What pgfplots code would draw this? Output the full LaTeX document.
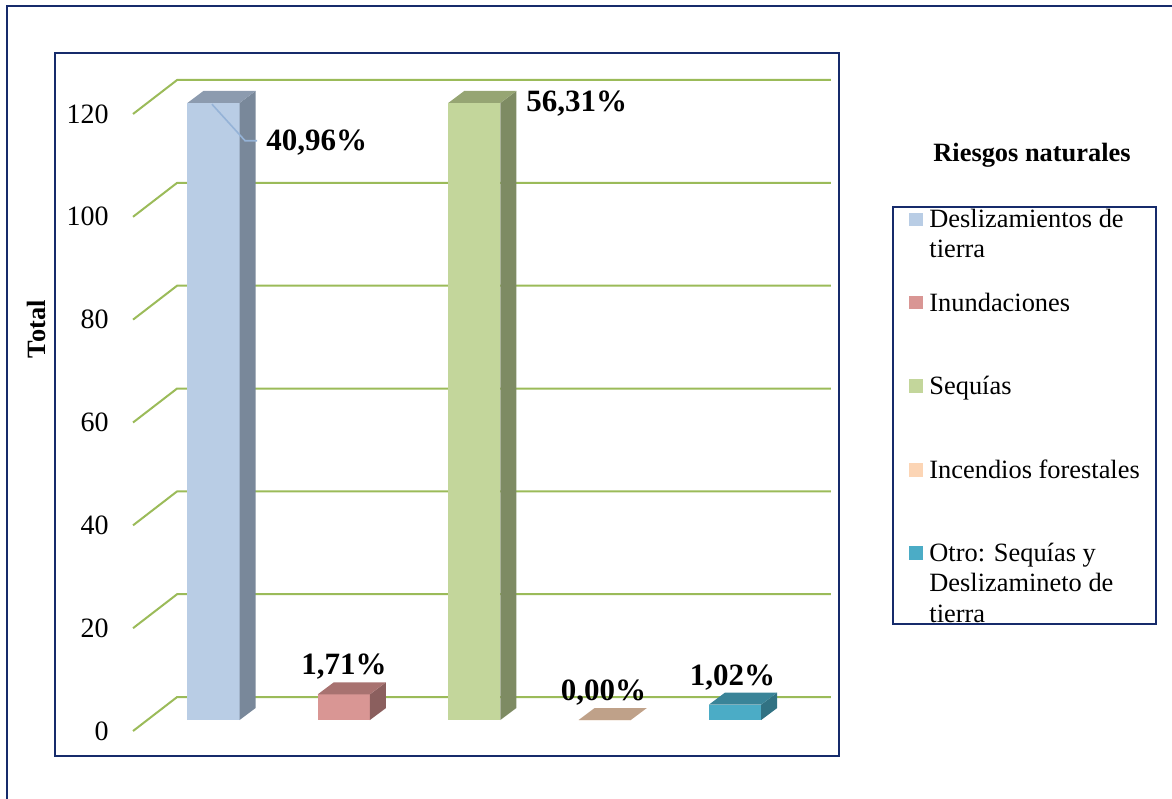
\documentclass[border=0pt]{standalone}
\usepackage{pgfplots}
\pgfplotsset{compat=1.18}
\usepackage{fontspec}
\setmainfont{Liberation Serif}

\definecolor{marco}{RGB}{22,43,107}
\definecolor{rejilla}{RGB}{155,187,89}
\definecolor{guia}{RGB}{149,179,215}
% front / side / top of each box
\definecolor{deslF}{RGB}{185,205,229}
\definecolor{deslS}{RGB}{121,136,154}
\definecolor{deslT}{RGB}{140,155,175}
\definecolor{inunF}{RGB}{217,150,148}
\definecolor{inunS}{RGB}{139,95,94}
\definecolor{inunT}{RGB}{168,114,112}
\definecolor{sequF}{RGB}{195,214,155}
\definecolor{sequS}{RGB}{126,139,99}
\definecolor{sequT}{RGB}{150,165,115}
\definecolor{inceF}{RGB}{252,213,181}
\definecolor{inceT}{RGB}{191,161,137}
\definecolor{otroF}{RGB}{75,172,198}
\definecolor{otroS}{RGB}{49,114,131}
\definecolor{otroT}{RGB}{58,132,152}

\newcommand{\fs}{\fontsize{13.2}{15}\selectfont}
\newcommand{\ft}{\fontsize{14}{16}\selectfont}
\newcommand{\fl}{\fontsize{15.5}{18}\selectfont\bfseries}

% one 3-D box: #1 category, #2 count, #3 front, #4 side, #5 top
% bars are cut at the axis maximum (120), as in the original chart
\newcommand{\caja}[5]{%
  \pgfmathsetmacro{\cxA}{#1-0.2}%
  \pgfmathsetmacro{\cxB}{#1+0.2}%
  \pgfmathsetmacro{\cxC}{#1+0.3227}%
  \pgfmathsetmacro{\cxD}{#1-0.0773}%
  \pgfmathsetmacro{\cyT}{2.14+min(#2,120)}%
  \pgfmathsetmacro{\cyU}{\cyT+2.33}%
  \addplot[fill=#3, draw=none] coordinates {(\cxA,2.14) (\cxB,2.14) (\cxB,\cyT) (\cxA,\cyT)};
  \addplot[fill=#4, draw=none] coordinates {(\cxB,2.14) (\cxC,4.47) (\cxC,\cyU) (\cxB,\cyT)};
  \addplot[fill=#5, draw=none] coordinates {(\cxA,\cyT) (\cxB,\cyT) (\cxC,\cyU) (\cxD,\cyU)};
}

\begin{document}
\begin{tikzpicture}
\useasboundingbox (0,0) rectangle (586pt,399pt);

\begin{axis}[
    at={(27.5pt,21pt)}, anchor=south west,
    scale only axis, width=392pt, height=351.5pt,
    xmin=-0.2155, xmax=5.797,
    ymin=-4.86, ymax=131.86,
    xtick=\empty,
    ytick={0,20,...,120},
    major tick length=0pt,
    ytick style={draw=none},
    axis line style={draw=marco, line width=1pt},
    yticklabel style={font=\ft, inner sep=0pt, xshift=27pt},
    /pgf/number format/assume math mode=true,
    ylabel={\textbf{Total}},
    ylabel style={at={(axis description cs:-0.024,0.607)}, anchor=center, font=\fs},
]
    % walls: front step and back line of every gridline
    \addplot[rejilla, line width=1pt] coordinates {(0.383,0) (0.721,6.61) (5.735,6.61)};
    \addplot[rejilla, line width=1pt] coordinates {(0.383,20) (0.721,26.61) (5.735,26.61)};
    \addplot[rejilla, line width=1pt] coordinates {(0.383,40) (0.721,46.61) (5.735,46.61)};
    \addplot[rejilla, line width=1pt] coordinates {(0.383,60) (0.721,66.61) (5.735,66.61)};
    \addplot[rejilla, line width=1pt] coordinates {(0.383,80) (0.721,86.61) (5.735,86.61)};
    \addplot[rejilla, line width=1pt] coordinates {(0.383,100) (0.721,106.61) (5.735,106.61)};
    \addplot[rejilla, line width=1pt] coordinates {(0.383,120) (0.721,126.61) (5.735,126.61)};

    % counts (n = 293)
    \caja{1}{120}{deslF}{deslS}{deslT}
    \caja{2}{5}{inunF}{inunS}{inunT}
    \caja{3}{165}{sequF}{sequS}{sequT}
    \caja{4}{0}{inceF}{inceF}{inceT}
    \caja{5}{3}{otroF}{otroS}{otroT}

    % data labels
    \draw[guia, line width=0.8pt] (axis cs:0.988,121.9) -- (axis cs:1.242,114.8) -- (axis cs:1.334,114.8);
    \node[anchor=west, inner sep=0pt, font=\fl] at (axis cs:1.403,114.4) {40,96\%};
    \node[anchor=west, inner sep=0pt, font=\fl] at (axis cs:3.396,122.1) {56,31\%};
    \node[inner sep=0pt, font=\fl] at (axis cs:2.0,12.6) {1,71\%};
    \node[inner sep=0pt, font=\fl] at (axis cs:3.99,7.4) {0,00\%};
    \node[inner sep=0pt, font=\fl] at (axis cs:4.98,10.3) {1,02\%};
\end{axis}

\begin{scope}[x=0.5pt, y=-0.5pt, shift={(0pt,399pt)}]
    % outer frame (cut by the picture's right and bottom edges)
    \draw[marco, line width=1pt] (7,800) -- (7,6) -- (1174,6);

    % legend
    \node[font=\fs\bfseries] at (1032,155) {Riesgos naturales};
    \fill[deslF] (909,213) rectangle (923,226);
    \fill[inunF] (909,296) rectangle (923,309);
    \fill[sequF] (909,379) rectangle (923,393);
    \fill[inceF] (909,463) rectangle (923,477);
    \fill[otroF] (909,546) rectangle (923,560);
    \begin{scope}[every node/.style={anchor=base west, inner sep=0pt, font=\fs}]
        \node at (929,228) {Deslizamientos de};
        \node at (929,258) {tierra};
        \node at (929,312) {Inundaciones};
        \node at (929,395) {Sequías};
        \node at (929,479) {Incendios forestales};
        \node at (929,562) {Otro: Sequías y};
        \node at (929,592) {Deslizamineto de};
        \node at (929,622) {tierra};
    \end{scope}
    \draw[marco, line width=1pt] (893,207) rectangle (1156,624);
\end{scope}
\end{tikzpicture}
\end{document}
